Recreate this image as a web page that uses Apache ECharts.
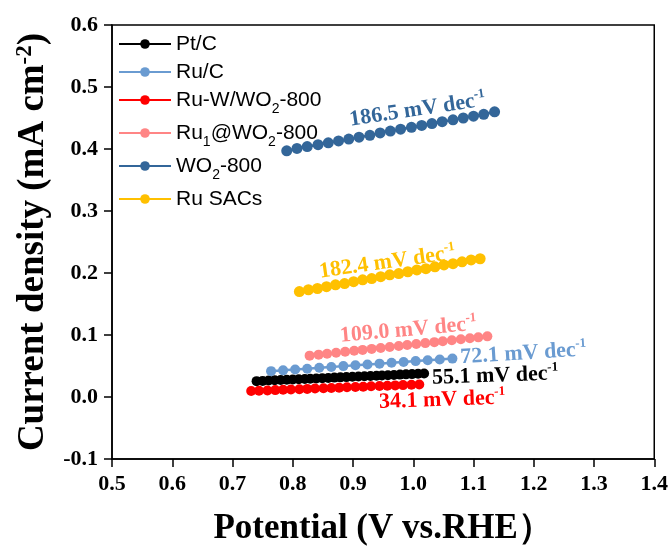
<!DOCTYPE html>
<html>
<head>
<meta charset="utf-8">
<script src="https://cdn.jsdelivr.net/npm/echarts@6/dist/echarts.min.js"></script>
<style>
  html, body { margin: 0; padding: 0; background: #fff; }
  #chart { width: 671px; height: 554px; }
</style>
</head>
<body>
<div id="chart"></div>
<script>
// Tafel-region polarization data: potential (V vs. RHE) and current density (mA cm-2)
const seriesNames = ['Pt/C', 'Ru/C', 'Ru-W/WO2-800', 'Ru1@WO2-800', 'WO2-800', 'Ru SACs'];

const ptcV = [0.740,0.750,0.760,0.770,0.780,0.790,0.800,0.810,0.820,0.829,0.839,0.849,0.859,0.869,0.879,0.889,0.899,0.909,0.919,0.929,0.939,0.948,0.958,0.968,0.978,0.988,0.998,1.008,1.018];
const ptcJ = [0.0256,0.0260,0.0265,0.0269,0.0273,0.0278,0.0282,0.0286,0.0291,0.0295,0.0299,0.0304,0.0308,0.0313,0.0317,0.0321,0.0326,0.0330,0.0334,0.0339,0.0343,0.0347,0.0352,0.0356,0.0361,0.0365,0.0369,0.0374,0.0378];

const rucV = [0.764,0.784,0.804,0.824,0.844,0.864,0.884,0.904,0.924,0.944,0.964,0.984,1.004,1.024,1.044,1.065];
const rucJ = [0.0417,0.0430,0.0444,0.0457,0.0471,0.0484,0.0498,0.0511,0.0525,0.0538,0.0552,0.0565,0.0579,0.0592,0.0606,0.0619];

const ruwV = [0.731,0.744,0.758,0.771,0.784,0.797,0.811,0.824,0.837,0.851,0.864,0.877,0.890,0.904,0.917,0.930,0.944,0.957,0.970,0.983,0.997,1.010];
const ruwJ = [0.0096,0.0101,0.0106,0.0111,0.0116,0.0121,0.0126,0.0131,0.0136,0.0141,0.0146,0.0151,0.0156,0.0161,0.0166,0.0172,0.0177,0.0182,0.0187,0.0192,0.0197,0.0202];

const ru1V = [0.828,0.843,0.857,0.872,0.887,0.902,0.916,0.931,0.946,0.961,0.976,0.990,1.005,1.020,1.035,1.049,1.064,1.079,1.094,1.108,1.123];
const ru1J = [0.0667,0.0683,0.0698,0.0714,0.0729,0.0745,0.0760,0.0776,0.0791,0.0807,0.0823,0.0838,0.0854,0.0869,0.0885,0.0900,0.0916,0.0931,0.0947,0.0962,0.0978];

const wo2V = [0.790,0.807,0.824,0.842,0.859,0.876,0.893,0.910,0.928,0.945,0.962,0.979,0.997,1.014,1.031,1.048,1.066,1.083,1.100,1.117,1.135];
const wo2J = [0.397,0.401,0.404,0.407,0.410,0.413,0.416,0.419,0.422,0.426,0.429,0.432,0.435,0.438,0.441,0.444,0.447,0.450,0.453,0.456,0.460];

const sacV = [0.811,0.826,0.841,0.856,0.871,0.886,0.901,0.916,0.931,0.946,0.961,0.976,0.991,1.006,1.021,1.036,1.051,1.066,1.081,1.096,1.111];
const sacJ = [0.170,0.173,0.175,0.178,0.181,0.183,0.186,0.189,0.191,0.194,0.197,0.199,0.202,0.205,0.207,0.210,0.213,0.215,0.218,0.221,0.223];

// Tafel slopes (mV dec-1) and where each slope label sits, in data coordinates
const tafelSlopes = ['55.1', '72.1', '34.1', '109.0', '186.5', '182.4'];
const slopeLabelAt = [[1.136, 0.034], [1.183, 0.070], [1.048, -0.005], [0.992, 0.108], [1.007, 0.463], [0.957, 0.217]];
const slopeLabelTilt = [2, 3.5, 2, 5, 8.5, 8];

const xTicks = { min: 0.5, max: 1.4, step: 0.1 };
const yTicks = { min: -0.1, max: 0.6, step: 0.1 };

const colors = ['#000000', '#6A9BD1', '#FF0000', '#FF8585', '#336699', '#FFC000'];
const xs = [ptcV, rucV, ruwV, ru1V, wo2V, sacV];
const ys = [ptcJ, rucJ, ruwJ, ru1J, wo2J, sacJ];
const dotSizes = [10, 10, 10, 10, 11, 11];

const legendRich = {
  'Pt/C': 'Pt/C',
  'Ru/C': 'Ru/C',
  'Ru-W/WO2-800': 'Ru-W/WO{sub|2}-800',
  'Ru1@WO2-800': 'Ru{sub|1}@WO{sub|2}-800',
  'WO2-800': 'WO{sub|2}-800',
  'Ru SACs': 'Ru SACs'
};

const serif = '"Liberation Serif", "Times New Roman", serif';
const sans = '"Liberation Sans", Arial, sans-serif';

const series = seriesNames.map((name, i) => ({
  name: name,
  type: 'line',
  data: xs[i].map((v, k) => [v, ys[i][k]]),
  symbol: 'circle',
  symbolSize: dotSizes[i],
  showAllSymbol: true,
  itemStyle: { color: colors[i] },
  lineStyle: { color: colors[i], width: 2.5 },
  z: 2 + i,
  markPoint: {
    symbol: 'circle',
    symbolSize: 0,
    silent: true,
    data: [{ coord: slopeLabelAt[i], value: tafelSlopes[i] }],
    label: {
      show: true,
      position: 'inside',
      rotate: slopeLabelTilt[i],
      formatter: (p) => '{t|' + p.value + ' mV dec}{s|-1}',
      rich: {
        t: { fontFamily: serif, fontWeight: 'bold', fontSize: 22, color: colors[i], lineHeight: 26 },
        s: { fontFamily: serif, fontWeight: 'bold', fontSize: 13, color: colors[i], lineHeight: 13, verticalAlign: 'top' }
      }
    }
  }
}));

const chart = echarts.init(document.getElementById('chart'), null, { renderer: 'canvas' });
chart.setOption({
  backgroundColor: '#ffffff',
  animation: false,
  grid: {
    left: 112, top: 25, width: 544, height: 436,
    show: true, borderColor: '#000', borderWidth: 1.5, backgroundColor: 'transparent'
  },
  legend: {
    orient: 'vertical',
    left: 113, top: 28,
    itemWidth: 52, itemHeight: 12, itemGap: 6,
    data: seriesNames,
    formatter: (n) => legendRich[n],
    textStyle: {
      fontFamily: sans,
      fontSize: 21, color: '#000', lineHeight: 22,
      rich: {
        sub: { fontFamily: sans, fontSize: 14, color: '#000', verticalAlign: 'bottom', lineHeight: 14, padding: [0, 0, -5, 0] }
      }
    }
  },
  xAxis: {
    type: 'value',
    min: xTicks.min, max: xTicks.max, interval: xTicks.step,
    name: 'Potential (V vs.RHE）',
    nameLocation: 'middle', nameGap: 50,
    nameTextStyle: { fontFamily: serif, fontWeight: 'bold', fontSize: 35, color: '#000', lineHeight: 40 },
    axisLine: { show: true, onZero: false, lineStyle: { color: '#000', width: 1.5 } },
    axisTick: { show: true, inside: false, length: 8, lineStyle: { color: '#000', width: 1.5 } },
    axisLabel: {
      margin: 14, color: '#000', fontFamily: serif, fontWeight: 'bold', fontSize: 22,
      formatter: (v) => v.toFixed(1)
    },
    splitLine: { show: false }
  },
  yAxis: {
    type: 'value',
    min: yTicks.min, max: yTicks.max, interval: yTicks.step,
    name: '{a|Current density (mA cm}{s|-2}{a|)}',
    nameLocation: 'middle', nameGap: 58,
    nameTextStyle: {
      rich: {
        a: { fontFamily: serif, fontWeight: 'bold', fontSize: 37, color: '#000', lineHeight: 40 },
        s: { fontFamily: serif, fontWeight: 'bold', fontSize: 23, color: '#000', lineHeight: 23, verticalAlign: 'top' }
      }
    },
    axisLine: { show: true, onZero: false, lineStyle: { color: '#000', width: 1.5 } },
    axisTick: { show: true, inside: false, length: 8, lineStyle: { color: '#000', width: 1.5 } },
    axisLabel: {
      margin: 14, color: '#000', fontFamily: serif, fontWeight: 'bold', fontSize: 22,
      formatter: (v) => v.toFixed(1)
    },
    splitLine: { show: false }
  },
  series: series
});
</script>
</body>
</html>
